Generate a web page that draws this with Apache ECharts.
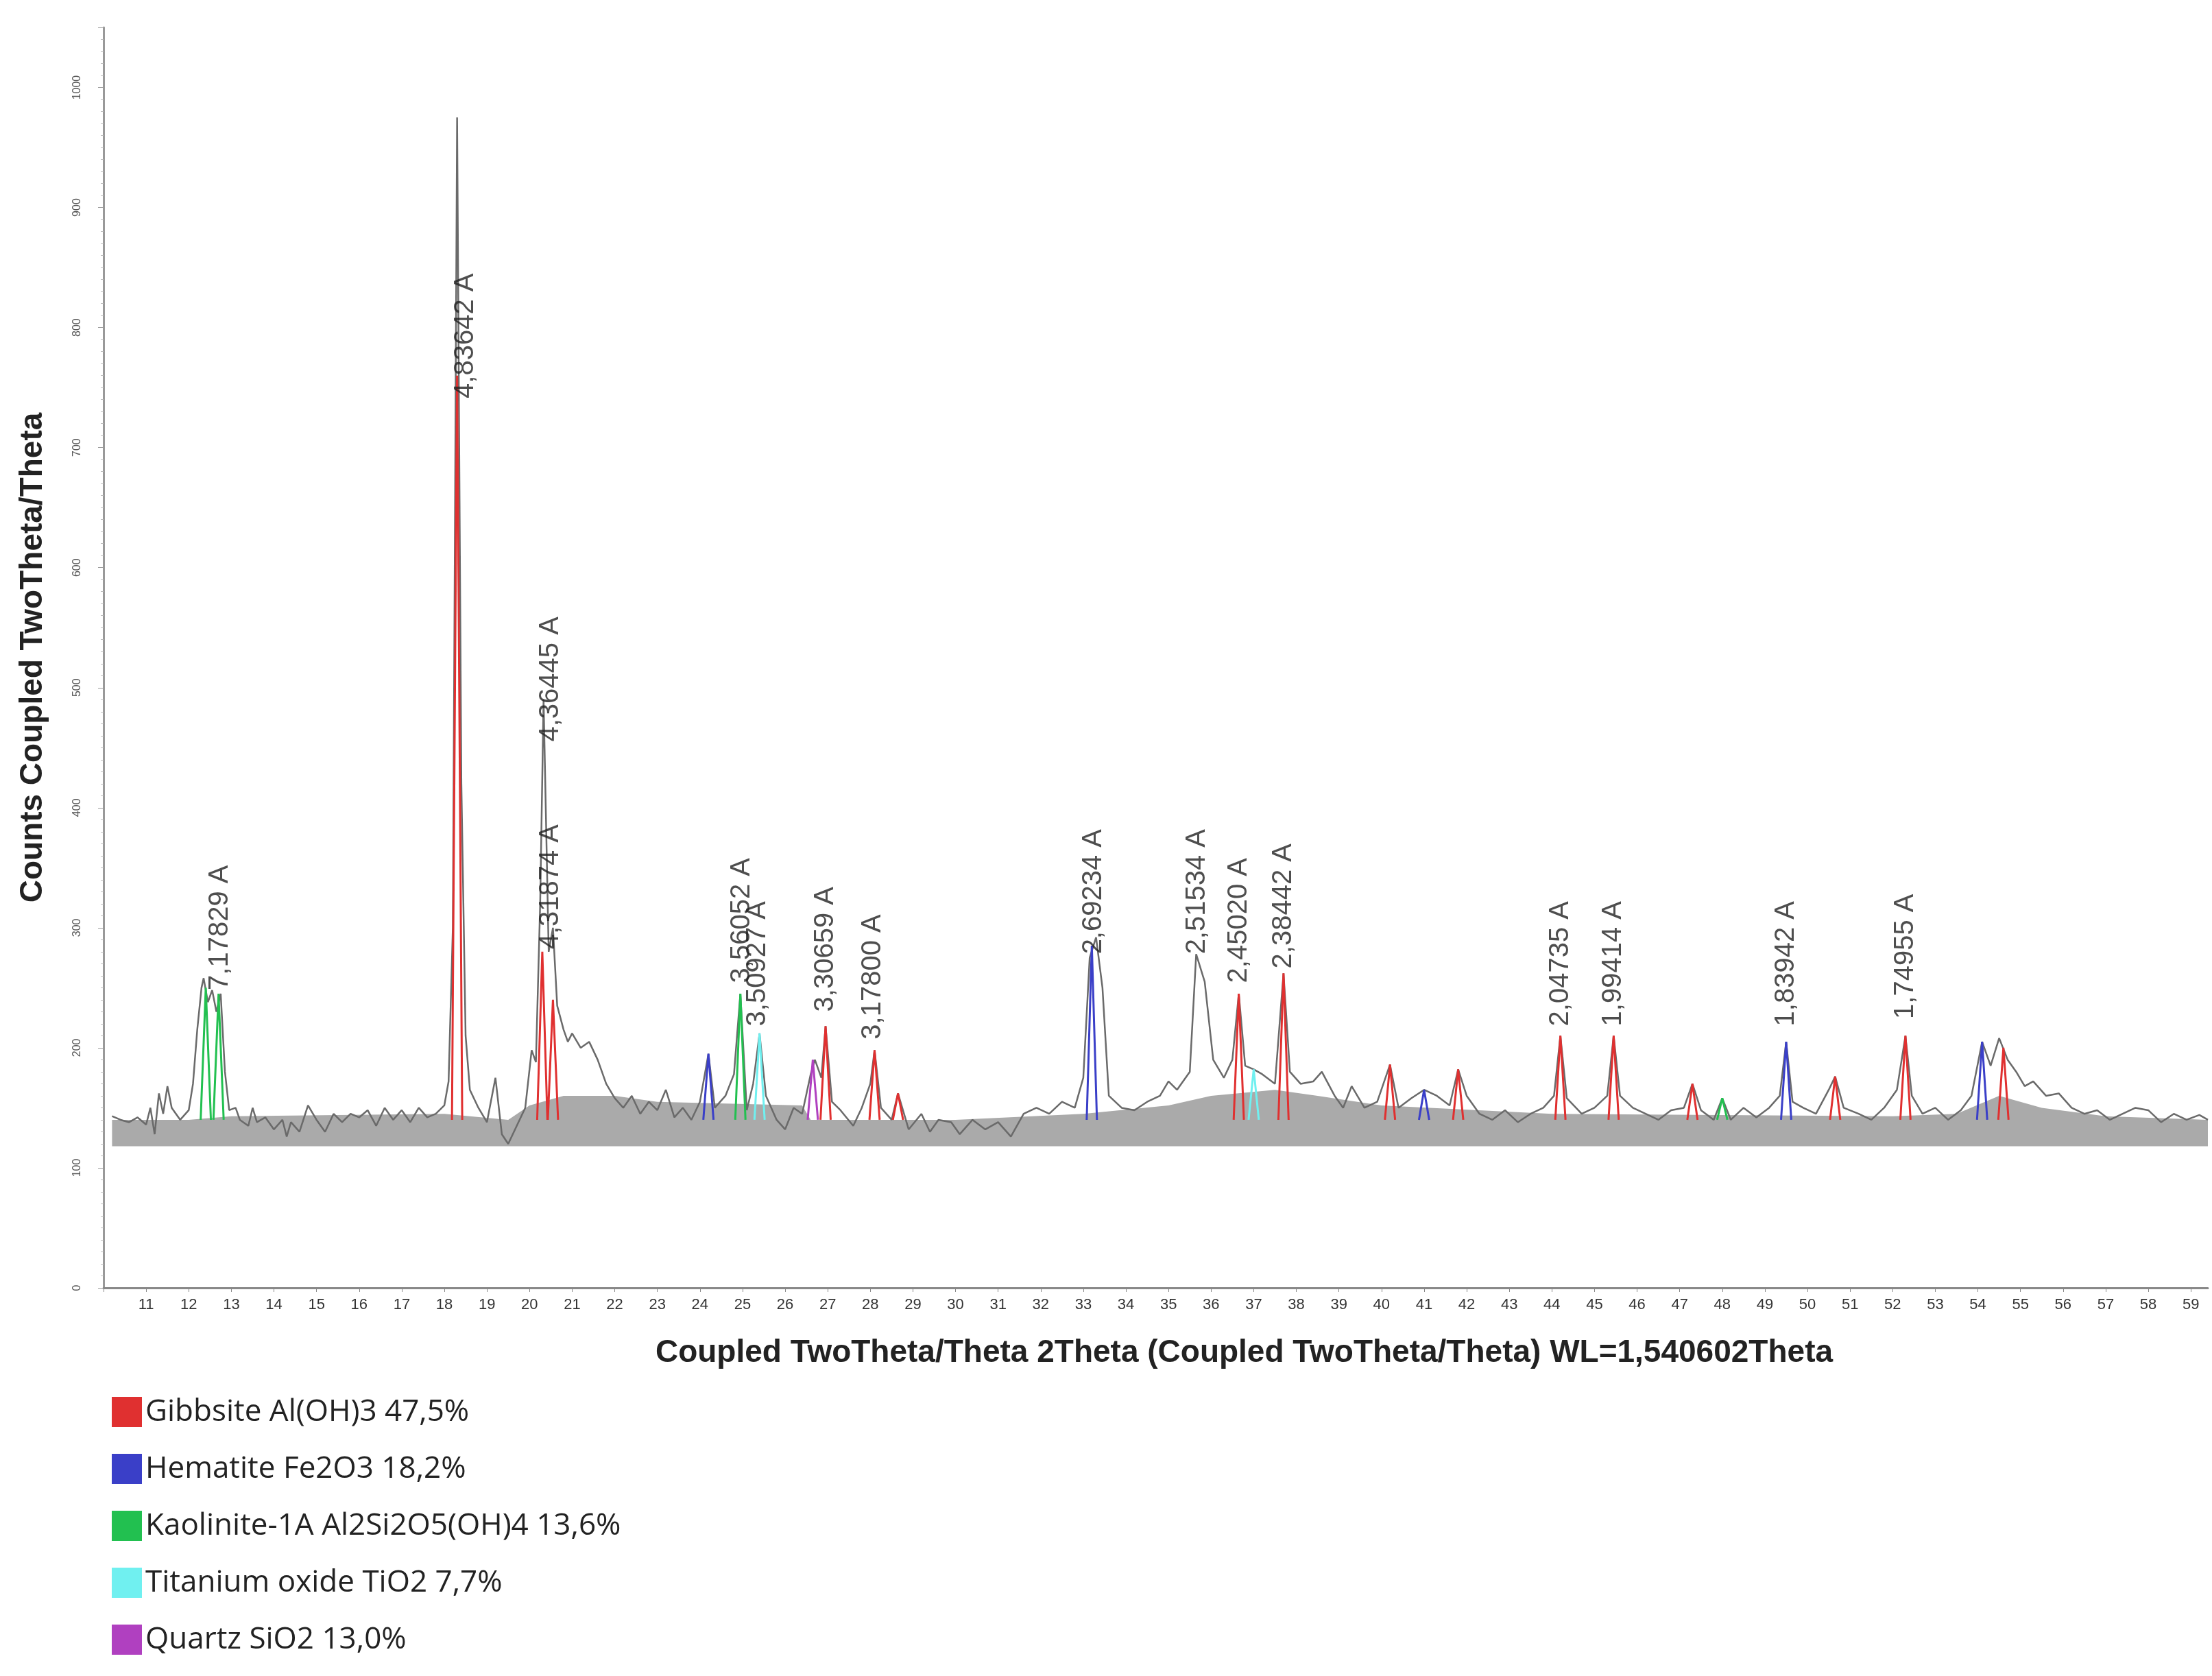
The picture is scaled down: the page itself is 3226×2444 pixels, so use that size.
<!DOCTYPE html>
<html><head><meta charset="utf-8">
<script src="https://cdn.jsdelivr.net/npm/echarts@6/dist/echarts.min.js"></script>
<style>html,body{margin:0;padding:0;background:#fff}#c{width:3226px;height:2444px}</style>
</head><body><div id="c"></div>
<script>
// measured pattern [2theta, counts]
const pattern = [
[10.2,143],[10.4,140],[10.6,138],[10.8,142],[11.0,136],[11.1,150],[11.2,128],[11.3,162],[11.4,145],[11.5,168],[11.6,150],[11.8,140],[12.0,148],[12.1,170],[12.2,215],[12.3,250],[12.35,258],[12.45,238],[12.55,248],[12.65,230],[12.75,245],[12.85,180],[12.95,148],[13.1,150],[13.2,140],[13.4,135],[13.5,150],[13.6,138],[13.8,142],[14.0,132],[14.2,140],[14.3,126],[14.4,138],[14.6,130],[14.8,152],[15.0,140],[15.2,130],[15.4,145],[15.6,138],[15.8,145],[16.0,142],[16.2,148],[16.4,135],[16.6,150],[16.8,140],[17.0,148],[17.2,138],[17.4,150],[17.6,142],[17.8,145],[18.0,152],[18.1,172],[18.2,300],[18.3,975],[18.4,420],[18.5,210],[18.6,165],[18.8,150],[19.0,138],[19.2,175],[19.35,128],[19.5,120],[19.7,135],[19.9,150],[20.05,198],[20.15,188],[20.25,320],[20.33,490],[20.45,280],[20.55,300],[20.65,235],[20.8,215],[20.9,205],[21.0,212],[21.2,200],[21.4,205],[21.6,190],[21.8,170],[22.0,158],[22.2,150],[22.4,160],[22.6,145],[22.8,155],[23.0,148],[23.2,165],[23.4,142],[23.6,150],[23.8,140],[24.0,155],[24.2,195],[24.35,150],[24.6,160],[24.8,178],[24.95,245],[25.1,148],[25.25,170],[25.4,212],[25.55,160],[25.8,140],[26.0,132],[26.2,150],[26.4,145],[26.6,178],[26.7,190],[26.85,175],[26.95,218],[27.1,155],[27.3,148],[27.6,135],[27.8,150],[28.0,170],[28.1,198],[28.25,150],[28.5,140],[28.65,162],[28.9,132],[29.2,145],[29.4,130],[29.6,140],[29.9,138],[30.1,128],[30.4,140],[30.7,132],[31.0,138],[31.3,126],[31.6,145],[31.9,150],[32.2,145],[32.5,155],[32.8,150],[33.0,175],[33.15,275],[33.3,292],[33.45,250],[33.6,160],[33.9,150],[34.2,148],[34.5,155],[34.8,160],[35.0,172],[35.2,165],[35.5,180],[35.65,278],[35.85,255],[36.05,190],[36.3,175],[36.5,190],[36.65,245],[36.8,185],[37.0,182],[37.2,178],[37.5,170],[37.7,262],[37.85,180],[38.1,170],[38.4,172],[38.6,180],[38.9,160],[39.1,150],[39.3,168],[39.6,150],[39.9,155],[40.2,186],[40.4,150],[40.7,158],[41.0,165],[41.3,160],[41.6,152],[41.8,182],[42.0,160],[42.3,145],[42.6,140],[42.9,148],[43.2,138],[43.5,145],[43.8,150],[44.05,160],[44.2,210],[44.35,158],[44.7,145],[45.0,150],[45.3,160],[45.45,210],[45.6,160],[45.9,150],[46.2,145],[46.5,140],[46.8,148],[47.1,150],[47.3,170],[47.5,148],[47.8,140],[48.0,158],[48.2,140],[48.5,150],[48.8,142],[49.1,150],[49.35,160],[49.5,205],[49.65,155],[49.9,150],[50.2,145],[50.5,165],[50.65,176],[50.85,150],[51.2,145],[51.5,140],[51.8,150],[52.1,165],[52.3,210],[52.45,160],[52.7,145],[53.0,150],[53.3,140],[53.6,148],[53.85,160],[54.1,205],[54.3,185],[54.5,208],[54.7,190],[54.9,180],[55.1,168],[55.3,172],[55.6,160],[55.9,162],[56.2,150],[56.5,145],[56.8,148],[57.1,140],[57.4,145],[57.7,150],[58.0,148],[58.3,138],[58.6,145],[58.9,140],[59.2,144],[59.4,140]
];
// background (amorphous hump) [2theta, counts]
const background = [
[10.2,140],[12.0,140],[13.0,143],[18.0,145],[19.5,140],[20.0,152],[20.8,160],[22.0,160],[23.0,155],[26.4,152],[26.6,140],[30.0,140],[33.0,145],[35.0,152],[36.0,160],[37.5,165],[38.5,160],[40.0,152],[44.0,145],[52.0,143],[53.5,145],[54.5,160],[55.5,150],[57.0,143],[59.4,140]
];
// phase peaks [2theta, height]
const gibbsite = [[18.3,760],[20.3,280],[20.55,240],[26.95,218],[28.1,198],[28.65,162],[36.65,245],[37.7,262],[40.2,186],[41.8,182],[44.2,210],[45.45,210],[47.3,170],[50.65,176],[52.3,210],[54.6,200]];
const hematite = [[24.2,195],[33.2,285],[41.0,165],[49.5,205],[54.1,205]];
const kaolinite = [[12.4,250],[12.7,245],[24.95,245],[48.0,158]];
const titanium = [[25.4,212],[37.0,182]];
const quartz = [[26.65,190]];
// d-spacing labels [2theta, label base counts, text]
const peakLabels = [
[12.73,240,'7,17829 A'],[18.5,733,'4,83642 A'],[20.5,447,'4,36445 A'],[20.5,274,'4,31874 A'],
[24.99,246,'3,56052 A'],[25.36,210,'3,50927 A'],[26.95,222,'3,30659 A'],[28.06,199,'3,17800 A'],
[33.25,270,'2,69234 A'],[35.67,270,'2,51534 A'],[36.65,246,'2,45020 A'],[37.7,258,'2,38442 A'],
[44.2,210,'2,04735 A'],[45.45,210,'1,99414 A'],[49.5,210,'1,83942 A'],[52.3,216,'1,74955 A']
];
const phaseNames = ['Gibbsite Al(OH)3 47,5%','Hematite Fe2O3 18,2%','Kaolinite-1A Al2Si2O5(OH)4 13,6%','Titanium oxide TiO2 7,7%','Quartz SiO2 13,0%'];
const phaseColors = ['#e03030','#3a3fc8','#22c050','#70f0f0','#b040c0'];
const phaseData = [gibbsite,hematite,kaolinite,titanium,quartz];

function sticks(arr){
  const out=[];
  arr.forEach(([x,h])=>{out.push([x-0.12,140]);out.push([x,h]);out.push([x+0.12,140]);out.push(null);});
  return out;
}
const chart = echarts.init(document.getElementById('c'));
const series = [
  {type:'line',name:'bg',data:background,symbol:'none',silent:true,lineStyle:{width:0},
   areaStyle:{color:'#aaaaaa',opacity:1,origin:118},z:1},
  {type:'line',name:'pattern',data:pattern,symbol:'none',lineStyle:{color:'#6a6a6a',width:2.5},z:3}
];
phaseData.forEach((d,i)=>series.push({type:'line',name:phaseNames[i],data:sticks(d),symbol:'none',
  connectNulls:false,lineStyle:{color:phaseColors[i],width:3},itemStyle:{color:phaseColors[i]},z:4}));
series.push({type:'scatter',name:'labels',symbolSize:0,z:5,silent:true,
  data:peakLabels.map(p=>({value:[p[0],p[1]],name:p[2]})),
  label:{show:true,formatter:p=>p.name,rotate:90,position:'inside',align:'left',verticalAlign:'middle',
    offset:[14,0],fontSize:40,color:'#222',fontFamily:'Liberation Sans Narrow, Liberation Sans'}});

chart.setOption({
  animation:false,
  grid:{left:151,right:6,top:40,bottom:566},
  xAxis:{type:'value',min:10,max:59.4,interval:1,
    axisLine:{lineStyle:{color:'#888',width:3}},axisTick:{show:true,length:6,lineStyle:{color:'#888'}},
    splitLine:{show:false},
    axisLabel:{fontSize:22,color:'#333',margin:14,formatter:v=>v<10.5?'':String(v)},
    name:'Coupled TwoTheta/Theta 2Theta (Coupled TwoTheta/Theta) WL=1,540602Theta',nameLocation:'middle',nameGap:72,
    nameTextStyle:{fontSize:46,fontWeight:'bold',color:'#222',padding:[0,0,0,258]}},
  yAxis:{type:'value',min:0,max:1050,interval:100,
    axisLine:{show:true,lineStyle:{color:'#999',width:3}},axisTick:{show:true,length:8,lineStyle:{color:'#999'}},
    minorTick:{show:true,splitNumber:10,length:4,lineStyle:{color:'#bbb'}},
    splitLine:{show:false},
    axisLabel:{fontSize:16,color:'#555',rotate:90,margin:30,formatter:v=>v>1000?'':String(v)},
    name:'Counts Coupled TwoTheta/Theta',nameLocation:'middle',nameGap:80,
    nameTextStyle:{fontSize:46,fontWeight:'bold',color:'#222'}},
  legend:{show:true,orient:'vertical',left:158,top:2032,itemWidth:44,itemHeight:44,itemGap:39,
    icon:'rect',data:phaseNames,textStyle:{fontSize:44,color:'#222',fontFamily:'Open Sans'}},
  series:series
});
</script></body></html>
